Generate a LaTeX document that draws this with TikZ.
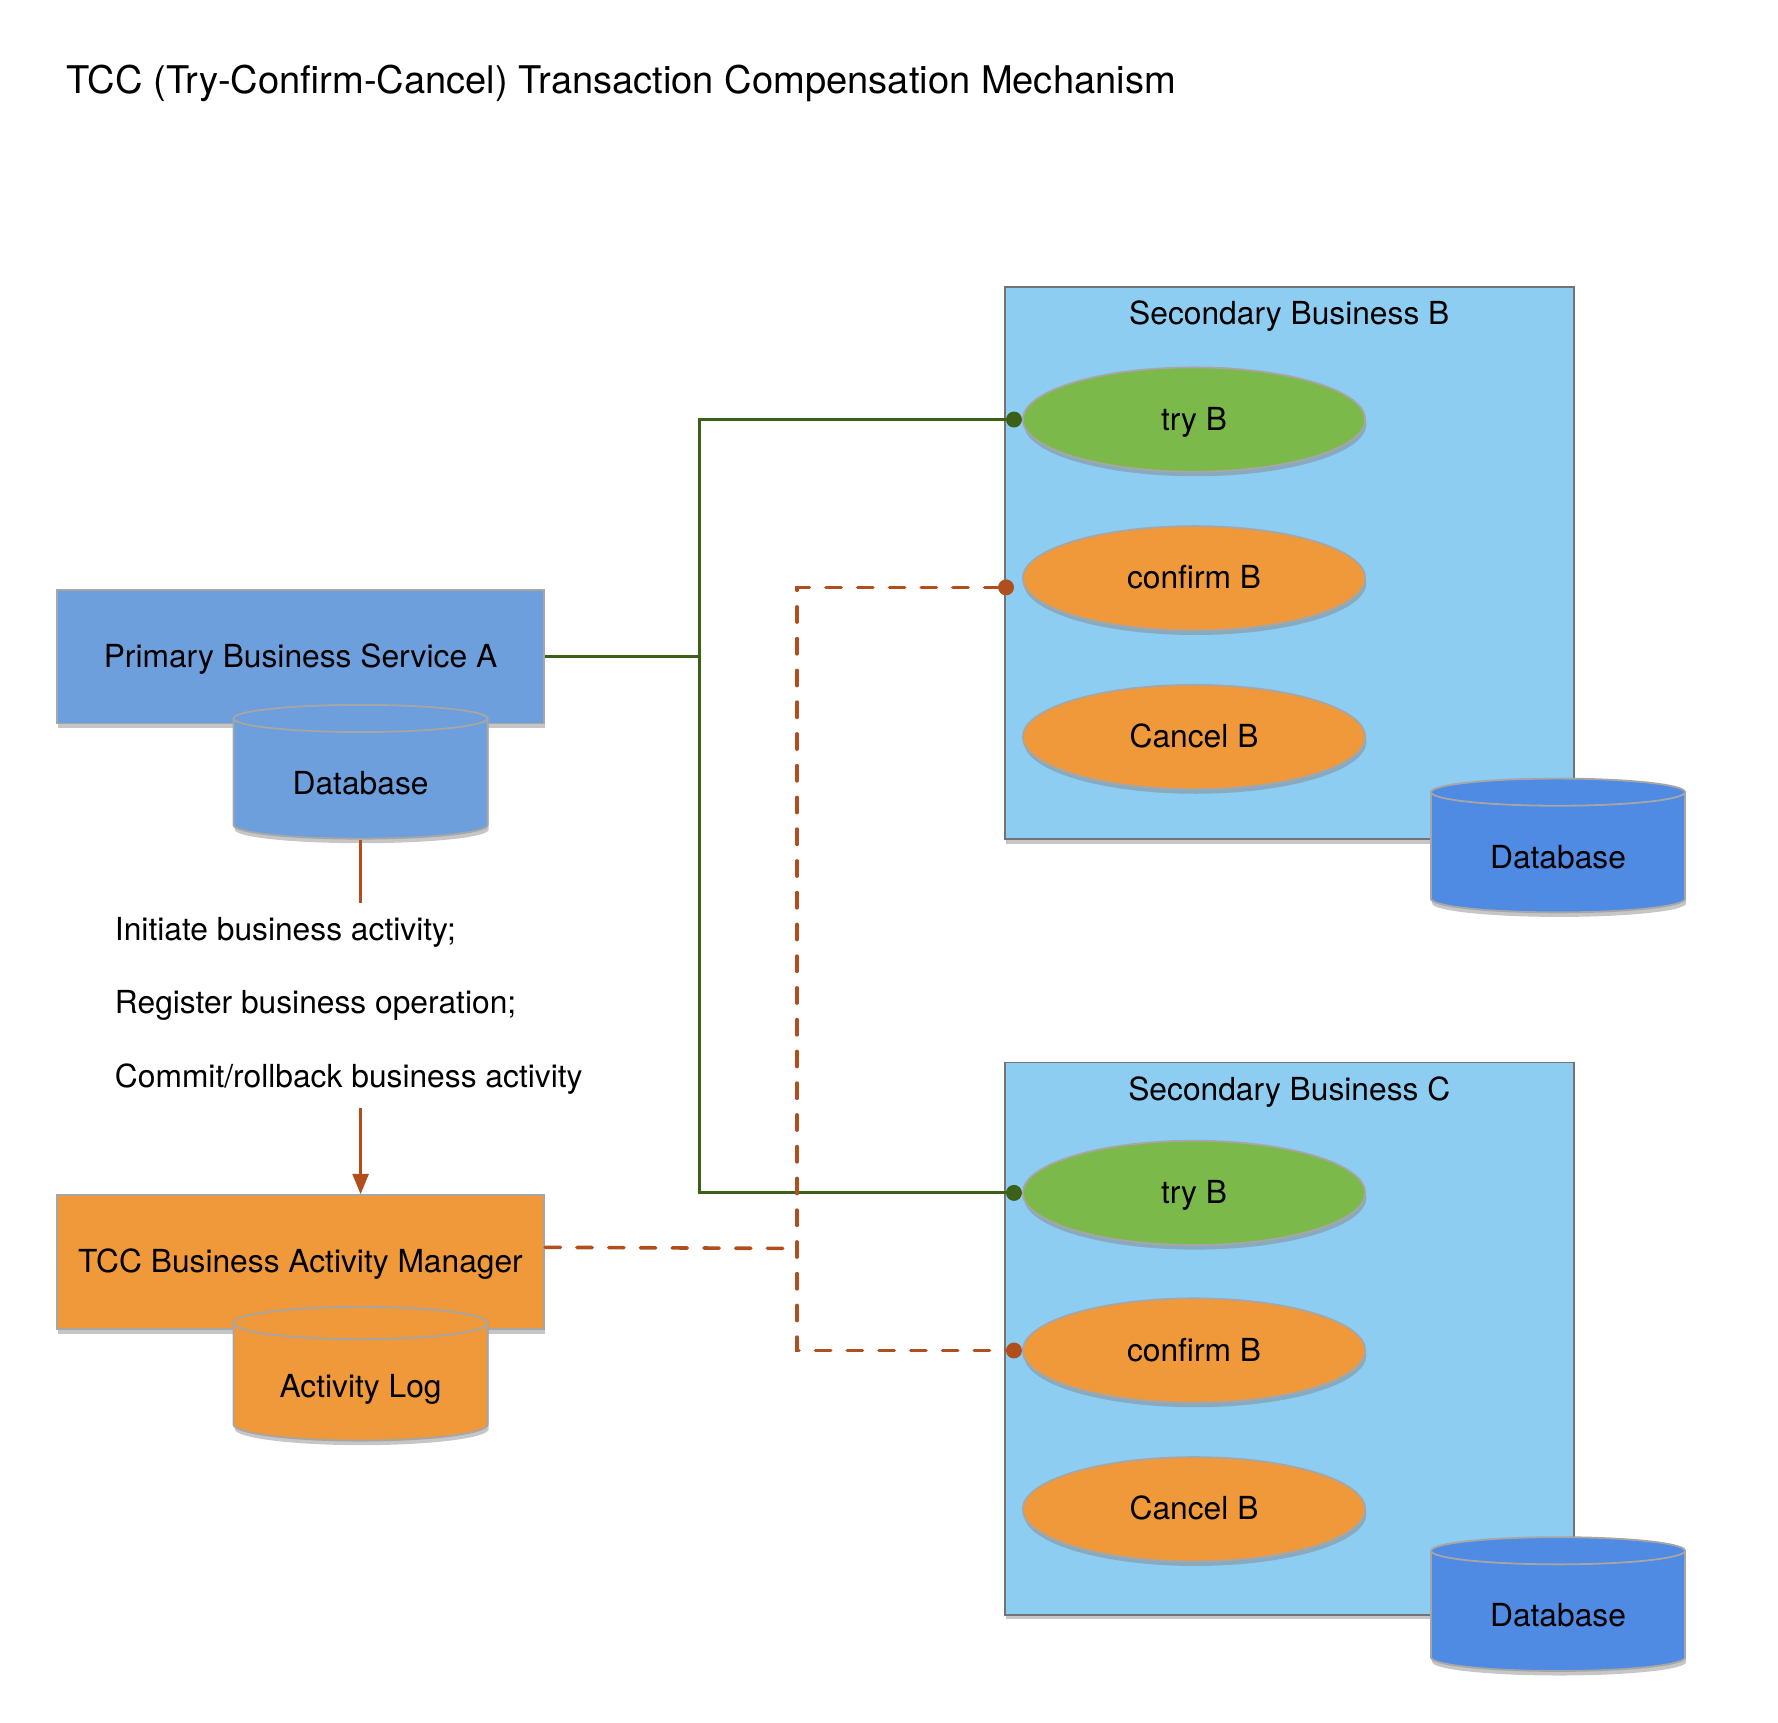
\documentclass[tikz,border=0pt]{standalone}
\usepackage{fontspec}
\setmainfont{TeX Gyre Heros}
\usetikzlibrary{positioning, shapes.geometric, shadows, arrows.meta}

\definecolor{serviceblue}{RGB}{108,159,220}
\definecolor{paleblue}{RGB}{141,205,241}
\definecolor{dbblue}{RGB}{79,138,227}
\definecolor{tccorange}{RGB}{240,153,58}
\definecolor{trygreen}{RGB}{124,185,75}
\definecolor{linkgreen}{RGB}{59,97,25}
\definecolor{rust}{RGB}{176,78,30}
\definecolor{edgegray}{RGB}{115,115,115}
\definecolor{rimgray}{RGB}{166,166,166}

\tikzset{
	shade/.style={drop shadow={shadow xshift=0.5pt, shadow yshift=-2pt, opacity=0.45}},
	capcenter/.style={text height=0.93em, text depth=0pt},
	svcbox/.style={draw=rimgray, line width=0.8pt, minimum width=215pt, minimum height=59pt, inner sep=0pt, capcenter, shade},
	secbox/.style={draw=edgegray, line width=0.8pt, fill=paleblue, minimum width=251pt, minimum height=243.5pt, inner sep=0pt, shade},
	opnode/.style={ellipse, draw=rimgray, line width=0.8pt, minimum width=151pt, minimum height=46pt, inner sep=0pt, capcenter, shade},
	dbcyl/.style={cylinder, shape border rotate=90, aspect=0.2, draw=rimgray, line width=0.8pt, minimum width=112pt, minimum height=59pt, inner sep=0pt, text height=1.36em, text depth=0pt, shade},
	greenlink/.style={linkgreen, line width=1.4pt},
	rustlink/.style={rust, line width=1.6pt, line cap=round, dash pattern=on 6.7pt off 7.3pt}
}

\begin{document}
\begin{tikzpicture}[x=0.5pt, y=-0.5pt, font=\fontsize{14}{16}\selectfont]
	\useasboundingbox (0,0) rectangle (1568,1519);
	\node (title) [anchor=west, inner sep=0pt, font=\fontsize{16.8}{20}\selectfont] at (58,74) {TCC (Try-Confirm-Cancel) Transaction Compensation Mechanism};

	% left side
	\node (secA) [svcbox, fill=serviceblue] at (265,579) {Primary Business Service A};
	\node (dbA) [dbcyl, fill=serviceblue] at (318,687) {Database};
	\node (ops) [anchor=west, align=left, inner sep=6pt, font=\fontsize{14}{32.3}\selectfont] at (89,887) {Initiate business activity;\\Register business operation;\\Commit/rollback business activity};
	\node (tcc) [svcbox, fill=tccorange] at (265,1113) {TCC Business Activity Manager};
	\node (log) [dbcyl, fill=tccorange] at (318,1219) {Activity Log};

	% secondary B
	\node (secB) [secbox] at (1137,496.5) {};
	\node (secBtitle) [below=6.5pt of secB.north, inner sep=0pt] {Secondary Business B};
	\node (tryB) [opnode, fill=trygreen] at (1053,370) {try B};
	\node (confB) [opnode, fill=tccorange] at (1053,510) {confirm B};
	\node (cancB) [opnode, fill=tccorange] at (1053,650) {Cancel B};
	\node (dbB) [dbcyl, fill=dbblue] at (1374,752) {Database};

	% secondary C
	\node (secC) [secbox] at (1137,1180.5) {};
	\node (secCtitle) [below=6.5pt of secC.north, inner sep=0pt] {Secondary Business C};
	\node (tryC) [opnode, fill=trygreen] at (1053,1052) {try B};
	\node (confC) [opnode, fill=tccorange] at (1053,1191) {confirm B};
	\node (cancC) [opnode, fill=tccorange] at (1053,1331) {Cancel B};
	\node (dbC) [dbcyl, fill=dbblue] at (1374,1421) {Database};

	% links
	\coordinate (split) at (617,579);
	\coordinate (dashJ) at (703,1101);
	\draw [greenlink] (secA.east) -- (split);
	\draw [greenlink, -{Circle[length=7pt]}] (split) |- (tryB.west);
	\draw [greenlink, -{Circle[length=7pt]}] (split) |- (tryC.west);
	\draw [rustlink, {Circle[length=7pt]}-{Circle[length=7pt]}] ([shift={(-7,8)}]confB.west) -| (dashJ) |- (confC.west);
	\draw [rustlink] ([yshift=6.5pt]tcc.east) -- (dashJ);
	\draw [rust, line width=1.3pt] (dbA.south) -- (dbA.south |- ops.north);
	\draw [rust, line width=1.3pt, -{Triangle[length=9pt, width=7pt]}] (ops.south -| dbA.south) -- (tcc.north -| dbA.south);
\end{tikzpicture}
\end{document}
